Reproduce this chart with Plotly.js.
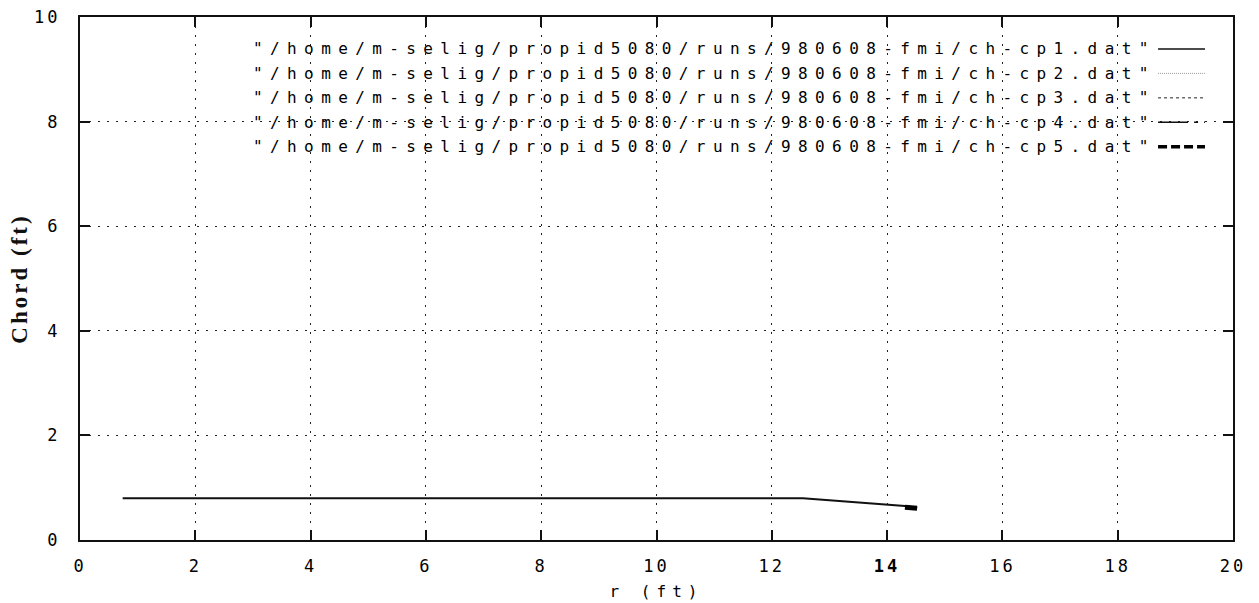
<!DOCTYPE html>
<html>
<head>
<meta charset="utf-8">
<script src="https://cdn.plot.ly/plotly-3.0.1.min.js"></script>
<style>
  html, body { margin: 0; padding: 0; background: #fff; }
  #chart { width: 1259px; height: 603px; }
  .annotation-text { letter-spacing: 7.4px; }
  .xtick text, .ytick text { letter-spacing: 3px; }
  .xtitle { letter-spacing: 6px; }
  .ytitle { letter-spacing: 3px; }
</style>
</head>
<body>
<div id="chart"></div>
<script>
// ---- data ----
const r_cp1     = [0.74, 12.54, 14.31, 14.52];
const chord_cp1 = [0.80, 0.80, 0.65, 0.61];
const r_cp5     = [14.31, 14.52];
const chord_cp5 = [0.625, 0.605];

const legendLabels = [
  '"/home/m-selig/propid5080/runs/980608-fmi/ch-cp1.dat"',
  '"/home/m-selig/propid5080/runs/980608-fmi/ch-cp2.dat"',
  '"/home/m-selig/propid5080/runs/980608-fmi/ch-cp3.dat"',
  '"/home/m-selig/propid5080/runs/980608-fmi/ch-cp4.dat"',
  '"/home/m-selig/propid5080/runs/980608-fmi/ch-cp5.dat"'
];
const xTickVals  = [0, 2, 4, 6, 8, 10, 12, 14, 16, 18, 20];
const xTickText  = ['0', '2', '4', '6', '8', '10', '12', '<b>14</b>', '16', '18', '20'];
const yTickVals  = [0, 2, 4, 6, 8, 10];

// ---- styles ----
const legendStyles = [
  {color: '#111', width: 1.5, dash: 'solid'},
  {color: '#999', width: 1, dash: '1px,1px'},
  {color: '#222', width: 1, dash: '3px,3px'},
  {color: '#111', width: 1.5, dash: '30px,6px,4px,6px'},
  {color: '#000', width: 3.5, dash: '9px,4px'}
];

const traces = [
  {x: r_cp1, y: chord_cp1, mode: 'lines', line: {color: '#111', width: 2}, showlegend: false, hoverinfo: 'skip'},
  {x: r_cp5, y: chord_cp5, mode: 'lines', line: {color: '#000', width: 5}, showlegend: false, hoverinfo: 'skip'}
];

const monoFont = 'DejaVu Sans Mono, Liberation Mono, monospace';

const annotations = [];
const shapes = [];
legendLabels.forEach((lab, i) => {
  const yy = 0.939 - i * 0.0468;
  annotations.push({
    xref: 'paper', yref: 'paper', x: 0.935, y: yy,
    xanchor: 'right', yanchor: 'middle', showarrow: false,
    text: lab, font: {family: monoFont, size: 16, color: '#000'}
  });
  shapes.push({
    type: 'line', xref: 'paper', yref: 'paper',
    x0: 0.935, x1: 0.9757, y0: yy, y1: yy,
    line: legendStyles[i]
  });
});

const gridStyle = {gridcolor: '#222', gridwidth: 1, griddash: '2px,7px'};

const layout = {
  width: 1259, height: 603,
  margin: {l: 80, r: 26, t: 17, b: 63},
  paper_bgcolor: '#fff', plot_bgcolor: '#fff',
  showlegend: false,
  xaxis: Object.assign({
    range: [0, 20], tickvals: xTickVals, ticktext: xTickText,
    showgrid: true, zeroline: false,
    showline: true, linecolor: '#111', linewidth: 2, mirror: 'allticks',
    ticks: 'inside', ticklen: 10, tickwidth: 2, tickcolor: '#111',
    ticklabelstandoff: 10,
    tickfont: {family: monoFont, size: 17, color: '#000'},
    title: {text: 'r (ft)', font: {family: monoFont, size: 16, color: '#000'}, standoff: 10}
  }, gridStyle),
  yaxis: Object.assign({
    range: [0, 10], tickvals: yTickVals,
    showgrid: true, zeroline: false,
    showline: true, linecolor: '#111', linewidth: 2, mirror: 'allticks',
    ticks: 'inside', ticklen: 10, tickwidth: 2, tickcolor: '#111',
    ticklabelstandoff: 14,
    tickfont: {family: monoFont, size: 17, color: '#000'},
    title: {text: 'Chord (ft)', font: {family: 'Liberation Serif, Times New Roman, serif', size: 23, color: '#111', weight: 'bold'}, standoff: 0}
  }, gridStyle),
  annotations: annotations,
  shapes: shapes
};

Plotly.newPlot('chart', traces, layout, {displayModeBar: false, staticPlot: true});
</script>
</body>
</html>
